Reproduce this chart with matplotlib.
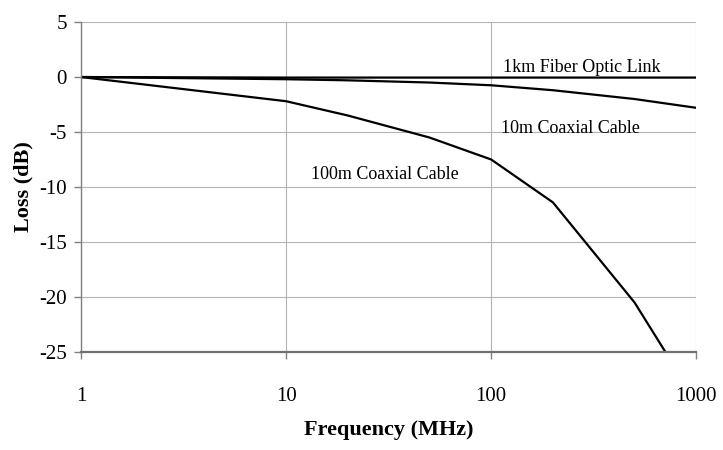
import matplotlib.pyplot as plt
from matplotlib.ticker import NullLocator, FixedLocator

plt.rcParams['font.family'] = ['Liberation Serif', 'DejaVu Serif']
plt.rcParams['axes.unicode_minus'] = False

# Frequency points (MHz)
freq = [1, 10, 20, 50, 100, 200, 500, 1000]

# Loss (dB)
fiber_1km = [0, -0.05, -0.05, -0.05, -0.05, -0.05, -0.05, -0.05]
coax_10m = [0, -0.2, -0.3, -0.5, -0.75, -1.2, -2.0, -2.8]
coax_100m = [0, -2.2, -3.5, -5.5, -7.5, -11.4, -20.5, -29.5]

x_ticks = [1, 10, 100, 1000]
x_tick_labels = ['1', '10', '100', '1000']
y_ticks = [5, 0, -5, -10, -15, -20, -25]

# curve labels: (text, freq, loss)
curve_labels = [
    ('1km Fiber Optic Link', 278, 0.9),
    ('10m Coaxial Cable', 243, -4.7),
    ('100m Coaxial Cable', 30.4, -8.9),
]

fig = plt.figure(figsize=(7.23, 4.5), dpi=100)
ax = fig.add_axes([0.112, 0.218, 0.851, 0.733])

ax.plot(freq, fiber_1km, color='black', lw=1.6)
ax.plot(freq, coax_10m, color='black', lw=1.6)
ax.plot(freq, coax_100m, color='black', lw=1.6)

ax.set_xscale('log')
ax.set_xlim(1, 1000)
ax.set_ylim(-25, 5)
ax.xaxis.set_major_locator(FixedLocator(x_ticks))
ax.xaxis.set_minor_locator(NullLocator())
ax.set_xticklabels(x_tick_labels)
ax.set_yticks(y_ticks)

ax.grid(True, color='#b4b4b4', lw=0.8)
ax.set_axisbelow(True)
for s in ['top', 'right']:
    ax.spines[s].set_visible(False)
ax.spines['left'].set_color('#808080')
ax.spines['left'].set_linewidth(1.0)
ax.spines['bottom'].set_color('#707070')
ax.spines['bottom'].set_linewidth(1.6)

ax.tick_params(axis='x', length=5, width=1, color='#808080', pad=20, labelsize=15)
ax.tick_params(axis='y', length=5, width=1, color='#808080', pad=5, labelsize=15)

ax.set_xlabel('Frequency (MHz)', fontsize=16, fontweight='bold', labelpad=10)
ax.set_ylabel('Loss (dB)', fontsize=16, fontweight='bold', labelpad=4)

for txt, fx, fy in curve_labels:
    ax.text(fx, fy, txt, ha='center', va='center', fontsize=13)

fig.savefig('out.png', dpi=100)
